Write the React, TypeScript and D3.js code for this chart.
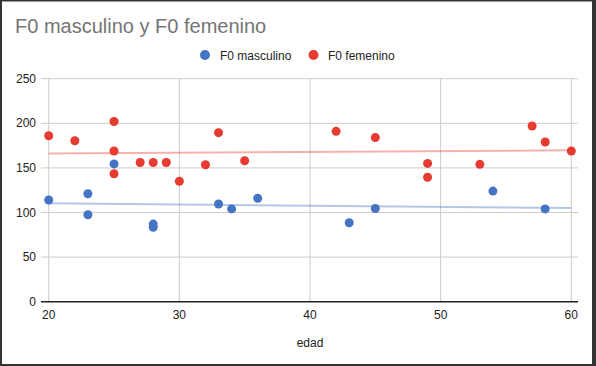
import * as d3 from "d3";

// edad / F0
const masculinoEdad = [20, 23, 23, 25, 28, 28, 33, 34, 36, 43, 45, 54, 58];
const masculinoF0 = [114, 121, 97.5, 154.5, 87, 83.5, 109.5, 104, 116, 88.5, 104.5, 124, 104];

const femeninoEdad = [20, 22, 25, 25, 25, 27, 28, 29, 30, 32, 33, 35, 42, 45, 49, 49, 53, 57, 58, 60];
const femeninoF0 = [186, 180.5, 202, 169, 143.5, 156, 156, 156, 135, 153.5, 189.5, 158, 191, 184, 155, 139.5, 154, 197, 179, 169];

const xTicks = [20, 30, 40, 50, 60];
const yTicks = [0, 50, 100, 150, 200, 250];

const BLUE = "#4674c4";
const RED = "#e53b30";
const FONT = "'Liberation Sans', Arial, sans-serif";

// tendencia lineal (mínimos cuadrados)
function trend(xs: number[], ys: number[]) {
  const mx = d3.mean(xs)!;
  const my = d3.mean(ys)!;
  const sxy = d3.sum(xs, (x, i) => (x - mx) * (ys[i] - my));
  const sxx = d3.sum(xs, (x) => (x - mx) ** 2);
  const b = sxy / sxx;
  return (x: number) => my + b * (x - mx);
}

export default function App() {
  const W = 596;
  const H = 366;
  const x = d3.scaleLinear().domain([20, 60]).range([48.7, 571.3]);
  const y = d3.scaleLinear().domain([0, 250]).range([301.7, 78.7]);
  const left = 41;
  const right = 578;

  const series = [
    { name: "F0 masculino", xs: masculinoEdad, ys: masculinoF0, color: BLUE },
    { name: "F0 femenino", xs: femeninoEdad, ys: femeninoF0, color: RED },
  ];

  const line = d3.line<number[]>().x((d) => x(d[0])).y((d) => y(d[1]));

  return (
    <svg width={W} height={H} style={{ position: "absolute", left: 0, top: 0, display: "block" }} fontFamily={FONT}>
      <rect x={0} y={0} width={W} height={H} fill="#fff" />

      <text x={15} y={33} fontSize={20} fill="#757575">F0 masculino y F0 femenino</text>

      {/* leyenda */}
      <g fontSize={12} fill="#222">
        <circle cx={205} cy={55} r={5} fill={BLUE} />
        <text x={220} y={59.5}>F0 masculino</text>
        <circle cx={313.5} cy={55} r={5} fill={RED} />
        <text x={328} y={59.5}>F0 femenino</text>
      </g>

      {/* rejilla */}
      {yTicks.filter((t) => t > 0).map((t) => (
        <line key={"gy" + t} x1={left} x2={right} y1={y(t)} y2={y(t)} stroke="#cccccc" strokeWidth={1} />
      ))}
      {xTicks.map((t) => (
        <line key={"gx" + t} x1={x(t)} x2={x(t)} y1={y(250)} y2={y(0)} stroke="#cccccc" strokeWidth={1} />
      ))}
      <line x1={left} x2={right} y1={y(0)} y2={y(0)} stroke="#222" strokeWidth={1.5} />

      {/* etiquetas */}
      <g fontSize={12} fill="#222">
        {yTicks.map((t) => (
          <text key={"ly" + t} x={36} y={y(t) + 4} textAnchor="end">{t}</text>
        ))}
        {xTicks.map((t) => (
          <text key={"lx" + t} x={x(t)} y={319} textAnchor="middle">{t}</text>
        ))}
        <text x={(x(20) + x(60)) / 2} y={347} textAnchor="middle">edad</text>
      </g>

      {/* líneas de tendencia */}
      {series.map((s) => {
        const f = trend(s.xs, s.ys);
        return (
          <path key={"t" + s.name} d={line([[20, f(20)], [60, f(60)]])!} stroke={s.color} strokeOpacity={0.4} strokeWidth={2} fill="none" />
        );
      })}

      {/* puntos */}
      {series.map((s) => (
        <g key={s.name} fill={s.color}>
          {s.xs.map((v, i) => (
            <circle key={i} cx={x(v)} cy={y(s.ys[i])} r={4.5} />
          ))}
        </g>
      ))}

      {/* marco */}
      <rect x={0} y={0} width={W} height={1.5} fill="#333" />
      <rect x={0} y={0} width={2} height={H} fill="#333" />
      <rect x={0} y={H - 2} width={W} height={2} fill="#333" />
      <rect x={W - 4} y={0} width={4} height={H} fill="#333" />
    </svg>
  );
}
